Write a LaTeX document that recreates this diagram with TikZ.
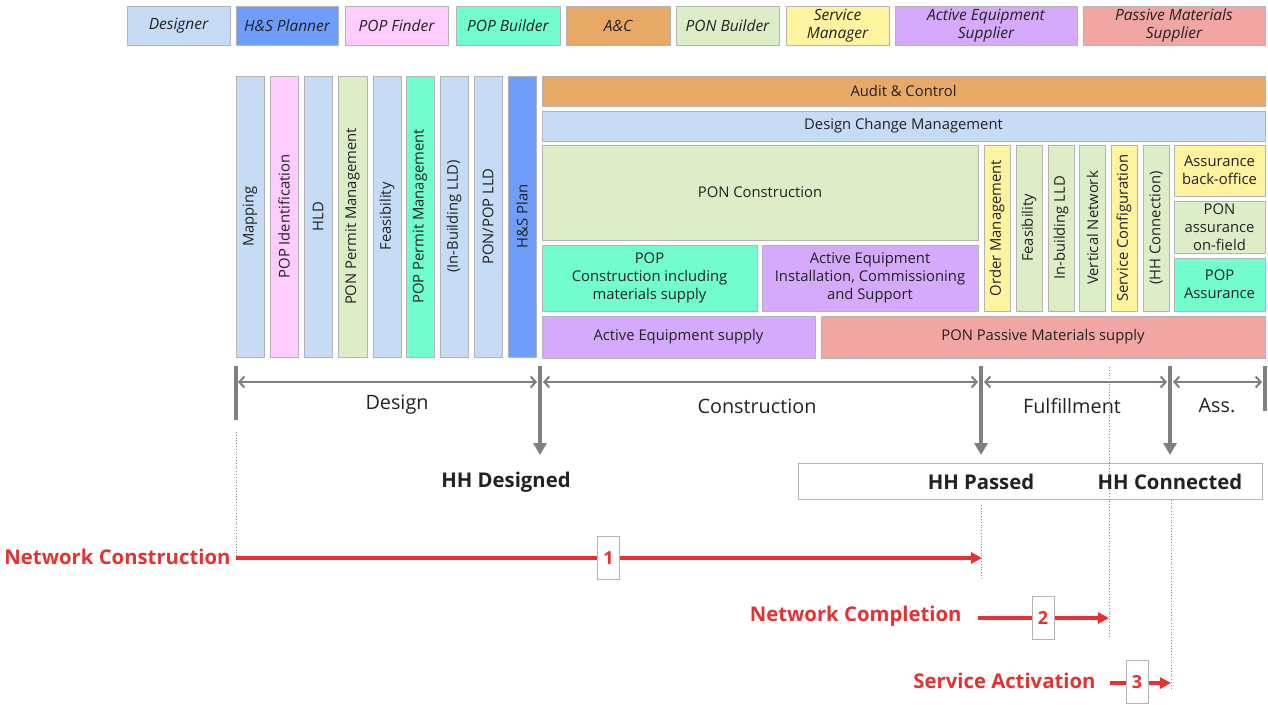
\documentclass[tikz,border=0pt]{standalone}
\usepackage{fontspec}
\setmainfont{Open Sans}
\usetikzlibrary{arrows.meta}
\definecolor{cDes}{HTML}{C6DBF5}
\definecolor{cHS}{HTML}{6F9DFB}
\definecolor{cPF}{HTML}{FECCFE}
\definecolor{cPB}{HTML}{72FDCF}
\definecolor{cAC}{HTML}{E8A866}
\definecolor{cPON}{HTML}{DCEEC8}
\definecolor{cSM}{HTML}{FEF39E}
\definecolor{cAE}{HTML}{D5A9FB}
\definecolor{cPM}{HTML}{F2A6A4}
\definecolor{cRed}{HTML}{E53130}
\definecolor{cGray}{HTML}{7F7F7F}
\definecolor{cBorder}{HTML}{B4B4B4}
\definecolor{cText}{HTML}{222222}
\newcommand{\myfs}[2]{\fontsize{#1}{#2}\selectfont}
\begin{document}
\begin{tikzpicture}[x=1pt,y=-1pt,
  cell/.style={draw=cBorder, line width=0.9pt, inner sep=0pt, align=center, text=cText, font=\myfs{14.8}{18}},
  legend/.style={cell, minimum height=39pt, font=\myfs{15.5}{18}\itshape},
  vcol/.style={cell, rotate=90, minimum width=281pt, minimum height=28pt},
  rcol/.style={cell, rotate=90, minimum width=166pt, minimum height=26pt},
  bar/.style={draw=cGray, line width=4pt},
  harrow/.style={draw=cGray, line width=2pt, {Straight Barb[length=5pt,width=11pt]}-{Straight Barb[length=5pt,width=11pt]}},
  varrow/.style={draw=cGray, line width=4pt, -{Triangle[length=12pt,width=13pt]}},
  phase/.style={text=cText, font=\myfs{19.8}{22}},
  milestone/.style={text=cText, font=\myfs{20.3}{22}\bfseries},
  dots/.style={draw=black!45, line width=0.8pt, dotted},
  redarrow/.style={draw=cRed, line width=4pt, -{Triangle[length=11pt,width=11pt]}},
  redlabel/.style={text=cRed, font=\myfs{20.3}{22}\bfseries},
  numbox/.style={draw=cBorder, fill=white, line width=0.9pt, inner sep=0pt, minimum width=22pt, minimum height=43pt, text=cRed, font=\myfs{18}{20}\bfseries}
]
\useasboundingbox (0,0) rectangle (1268,704);
% legend
\node[legend, fill=cDes, minimum width=103pt] (lDes) at (178.5,25.5) {Designer};
\node[legend, fill=cHS, minimum width=102pt] (lHS) at (287,25.5) {H\&S Planner};
\node[legend, fill=cPF, minimum width=103pt] (lPF) at (396.5,25.5) {POP Finder};
\node[legend, fill=cPB, minimum width=104pt] (lPB) at (508,25.5) {POP Builder};
\node[legend, fill=cAC, minimum width=104pt] (lAC) at (618,25.5) {A\&C};
\node[legend, fill=cPON, minimum width=103pt] (lPON) at (727.5,25.5) {PON Builder};
\node[legend, fill=cSM, minimum width=103pt] (lSM) at (837.5,25.5) {Service\\Manager};
\node[legend, fill=cAE, minimum width=182pt] (lAE) at (986,25.5) {Active Equipment\\Supplier};
\node[legend, fill=cPM, minimum width=182pt] (lPM) at (1174,25.5) {Passive Materials\\Supplier};
% design columns
\node[vcol, fill=cDes] (map) at (250,216.5) {Mapping};
\node[vcol, fill=cPF] (popid) at (284,216.5) {POP Identification};
\node[vcol, fill=cDes] (hld) at (318,216.5) {HLD};
\node[vcol, fill=cPON, minimum height=29pt] (ponpm) at (352.5,216.5) {PON Permit Management};
\node[vcol, fill=cDes] (feas) at (387,216.5) {Feasibility};
\node[vcol, fill=cPB] (poppm) at (420,216.5) {POP Permit Management};
\node[vcol, fill=cDes] (inb) at (454,216.5) {(In-Building LLD)};
\node[vcol, fill=cDes] (ponpop) at (488,216.5) {PON/POP LLD};
\node[vcol, fill=cHS] (hsplan) at (522,216.5) {H\&S Plan};
% construction blocks
\node[cell, fill=cAC, minimum width=723pt, minimum height=30pt] (ac) at (903.5,91) {Audit \& Control};
\node[cell, fill=cDes, minimum width=723pt, minimum height=30pt] (dcm) at (903.5,126) {Design Change Management};
\node[cell, fill=cPON, minimum width=436pt, minimum height=95pt] (ponc) at (760,192.5) {PON Construction};
\node[cell, fill=cPB, minimum width=215pt, minimum height=66pt] (popc) at (649.5,278) {POP\\Construction including\\materials supply};
\node[cell, fill=cAE, minimum width=216pt, minimum height=66pt] (aei) at (870,278) {Active Equipment\\Installation, Commissioning\\and Support};
\node[cell, fill=cAE, minimum width=273pt, minimum height=42pt] (aes) at (678.5,337) {Active Equipment supply};
\node[cell, fill=cPM, minimum width=444pt, minimum height=42pt] (pms) at (1043,337) {PON Passive Materials supply};
% fulfillment columns
\node[rcol, fill=cSM] (om) at (997,228) {Order Management};
\node[rcol, fill=cPON] (feas2) at (1029,228) {Feasibility};
\node[rcol, fill=cPON] (inb2) at (1061,228) {In-building LLD};
\node[rcol, fill=cPON] (vn) at (1092.5,228) {Vertical Network};
\node[rcol, fill=cSM] (sc) at (1124,228) {Service Configuration};
\node[rcol, fill=cPON] (hhc) at (1156,228) {(HH Connection)};
% assurance
\node[cell, fill=cSM, minimum width=91pt, minimum height=51pt] (abo) at (1219.5,170.5) {Assurance\\back-office};
\node[cell, fill=cPON, minimum width=91pt, minimum height=52pt] (paf) at (1219.5,227) {PON\\assurance\\on-field};
\node[cell, fill=cPB, minimum width=91pt, minimum height=53pt] (pa) at (1219.5,284.5) {POP\\Assurance};
% timeline coordinates
\coordinate (b1t) at (236,366); \coordinate (b1b) at (236,420);
\coordinate (b2t) at (540,366); \coordinate (b2b) at (540,455);
\coordinate (b3t) at (981,366); \coordinate (b3b) at (981,455);
\coordinate (b4t) at (1170,366); \coordinate (b4b) at (1170,455);
\coordinate (b5t) at (1265,366); \coordinate (b5b) at (1265,411);
\draw[bar] (b1t) -- (b1b);
\draw[varrow] (b2t) -- (b2b);
\draw[varrow] (b3t) -- (b3b);
\draw[varrow] (b4t) -- (b4b);
\draw[bar] (b5t) -- (b5b);
\coordinate (h1a) at (238,382); \coordinate (h1b) at (537,382);
\coordinate (h2a) at (543,382); \coordinate (h2b) at (978,382);
\coordinate (h3a) at (984,382); \coordinate (h3b) at (1167,382);
\coordinate (h4a) at (1173,382); \coordinate (h4b) at (1262,382);
\draw[harrow] (h1a) -- (h1b);
\draw[harrow] (h2a) -- (h2b);
\draw[harrow] (h3a) -- (h3b);
\draw[harrow] (h4a) -- (h4b);
\node[phase] (pDes) at (397,405) {Design};
\node[phase] (pCon) at (757,406) {Construction};
\node[phase] (pFul) at (1072,406) {Fulfillment};
\node[phase] (pAss) at (1217,406) {Ass.};
% milestones
\node[milestone] (mDes) at (506,482) {HH Designed};
\node[draw=cBorder, line width=0.9pt, fill=white, minimum width=464pt, minimum height=36pt, inner sep=0pt] (hhbox) at (1030,481) {};
% dotted guides
\coordinate (d1t) at (236,432); \coordinate (d1b) at (236,556);
\coordinate (d2t) at (981,505); \coordinate (d2b) at (981,580);
\coordinate (d3t) at (1109,367); \coordinate (d3b) at (1109,637);
\coordinate (d4t) at (1171,500); \coordinate (d4b) at (1171,688);
\draw[dots] (d1t) -- (d1b);
\draw[dots] (d2t) -- (d2b);
\draw[dots] (d3t) -- (d3b);
\draw[dots] (d4t) -- (d4b);
\node[milestone] (mPas) at (981,482) {HH Passed};
\node[milestone] (mCon) at (1170,482) {HH Connected};
% red flows
\node[redlabel, anchor=east] (nCon) at (234,557) {Network Construction};
\coordinate (e1s) at (236,558); \coordinate (e1e) at (982,558);
\draw[redarrow] (e1s) -- (e1e);
\node[numbox] (n1) at (608.5,558) {1};
\node[redlabel, anchor=east] (nCom) at (965,616) {Network Completion};
\coordinate (e2s) at (978,618); \coordinate (e2e) at (1109,618);
\draw[redarrow] (e2s) -- (e2e);
\node[numbox] (n2) at (1043,618) {2};
\node[redlabel, anchor=east] (nAct) at (1099,681) {Service Activation};
\coordinate (e3s) at (1110,683); \coordinate (e3e) at (1171,683);
\draw[redarrow] (e3s) -- (e3e);
\node[numbox] (n3) at (1137,682) {3};
\end{tikzpicture}
\end{document}
